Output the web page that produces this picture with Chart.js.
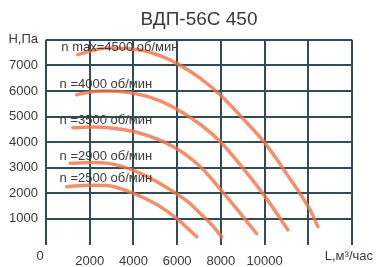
<!DOCTYPE html>
<html>
<head>
<meta charset="utf-8">
<script src="https://cdn.jsdelivr.net/npm/chart.js@4.4.1/dist/chart.umd.min.js"></script>
<style>
  html, body { margin: 0; padding: 0; background: #fff; }
</style>
</head>
<body>
<canvas id="c" width="377" height="267"></canvas>
<script>
// fan speeds, rpm
const rpm = [4500, 4000, 3500, 2900, 2500];
const curveNames = ['n max=4500 об/мин', 'n =4000 об/мин', 'n =3500 об/мин', 'n =2900 об/мин', 'n =2500 об/мин'];

// L, m3/h  vs  H, Pa
const flow4500 = [1450, 2800, 4300, 5350, 6130, 7050, 8000, 9000, 10000, 11100, 12080, 12440];
const pres4500 = [7420, 7680, 7600, 7330, 7010, 6500, 5820, 4930, 3980, 2650, 1350, 700];
const flow4000 = [1400, 2000, 2800, 3500, 4750, 5800, 7050, 8000, 8880, 10000, 11070];
const pres4000 = [5850, 5960, 6000, 5970, 5760, 5380, 4700, 4000, 3120, 1900, 570];
const flow3500 = [1230, 2200, 2780, 4300, 5810, 7050, 8040, 8880, 9640];
const pres3500 = [4560, 4590, 4570, 4350, 3830, 3050, 2100, 1230, 420];
const flow2900 = [1100, 2200, 2780, 4300, 5810, 6590, 7050, 7550, 8040];
const pres2900 = [3180, 3200, 3180, 2790, 2070, 1600, 1220, 800, 300];
const flow2500 = [950, 2000, 2780, 4000, 5070, 6000, 6900];
const pres2500 = [2260, 2320, 2310, 2000, 1560, 1000, 300];

const xTickLabels = ['', '2000', '4000', '6000', '8000', '10000', '', ''];
const yTickLabels = ['', '1000', '2000', '3000', '4000', '5000', '6000', '7000', 'Н,Па'];
const xTitle = 'L,м³/час';

const flows = [flow4500, flow4000, flow3500, flow2900, flow2500];
const press = [pres4500, pres4000, pres3500, pres2900, pres2500];

const gridColor = '#2f4d58';
const curveColor = 'rgba(243,115,70,0.8)';
const textColor = '#3a3a3a';
const font = 'Liberation Sans, Arial, sans-serif';

const datasets = rpm.map((n, i) => ({
  label: curveNames[i],
  data: flows[i].map((x, j) => ({x: x, y: press[i][j]})),
  borderColor: curveColor,
  borderWidth: 3.5,
  pointRadius: 0,
  showLine: true,
  cubicInterpolationMode: 'monotone',
  borderCapStyle: 'round'
}));

// curve captions, anchored in data units
const captionAt = [[700, 7700], [620, 6270], [620, 4840], [620, 3440], [620, 2590]];

const extras = {
  id: 'extras',
  afterDraw(chart) {
    const ctx = chart.ctx, xs = chart.scales.x, ys = chart.scales.y, a = chart.chartArea;
    ctx.save();
    ctx.fillStyle = textColor;
    ctx.font = '13px ' + font;
    ctx.textAlign = 'left';
    ctx.textBaseline = 'middle';
    curveNames.forEach((t, i) => {
      ctx.fillText(t, xs.getPixelForValue(captionAt[i][0]), ys.getPixelForValue(captionAt[i][1]));
    });
    ctx.textAlign = 'center';
    ctx.fillText('0', a.left - 6, a.bottom + 12);
    ctx.textAlign = 'right';
    ctx.fillText(xTitle, a.right + 21, a.bottom + 12);
    ctx.restore();
  }
};

new Chart(document.getElementById('c'), {
  type: 'scatter',
  data: { datasets: datasets },
  options: {
    responsive: false,
    animation: false,
    layout: { padding: { top: 0, left: 0, right: 25, bottom: 0 } },
    plugins: {
      legend: { display: false },
      tooltip: { enabled: false },
      title: {
        display: true,
        text: 'ВДП-56С 450',
        fullSize: false,
        color: textColor,
        font: { family: font, size: 19, weight: 'normal' },
        padding: { top: 8, bottom: 9 }
      }
    },
    scales: {
      x: {
        type: 'linear',
        min: 0, max: 14000,
        border: { display: false },
        grid: { color: gridColor, lineWidth: 2, drawTicks: false },
        ticks: {
          stepSize: 2000,
          autoSkip: false,
          padding: 9,
          maxRotation: 0,
          color: textColor,
          font: { family: font, size: 13 },
          callback: (v, i) => xTickLabels[i]
        },
        afterFit: s => { s.height = 22.5; s.paddingLeft = 0; s.paddingRight = 0; }
      },
      y: {
        min: 0, max: 8000,
        border: { display: false },
        grid: {
          color: c => c.tick && c.tick.value === 0 ? 'rgba(0,0,0,0)' : gridColor,
          lineWidth: 2,
          drawTicks: false
        },
        ticks: {
          stepSize: 1000,
          autoSkip: false,
          padding: 8,
          color: textColor,
          font: { family: font, size: 13 },
          callback: (v, i) => yTickLabels[i]
        },
        afterFit: s => { s.width = 46; s.paddingTop = 0; s.paddingBottom = 0; }
      }
    }
  },
  plugins: [extras]
});
</script>
</body>
</html>
